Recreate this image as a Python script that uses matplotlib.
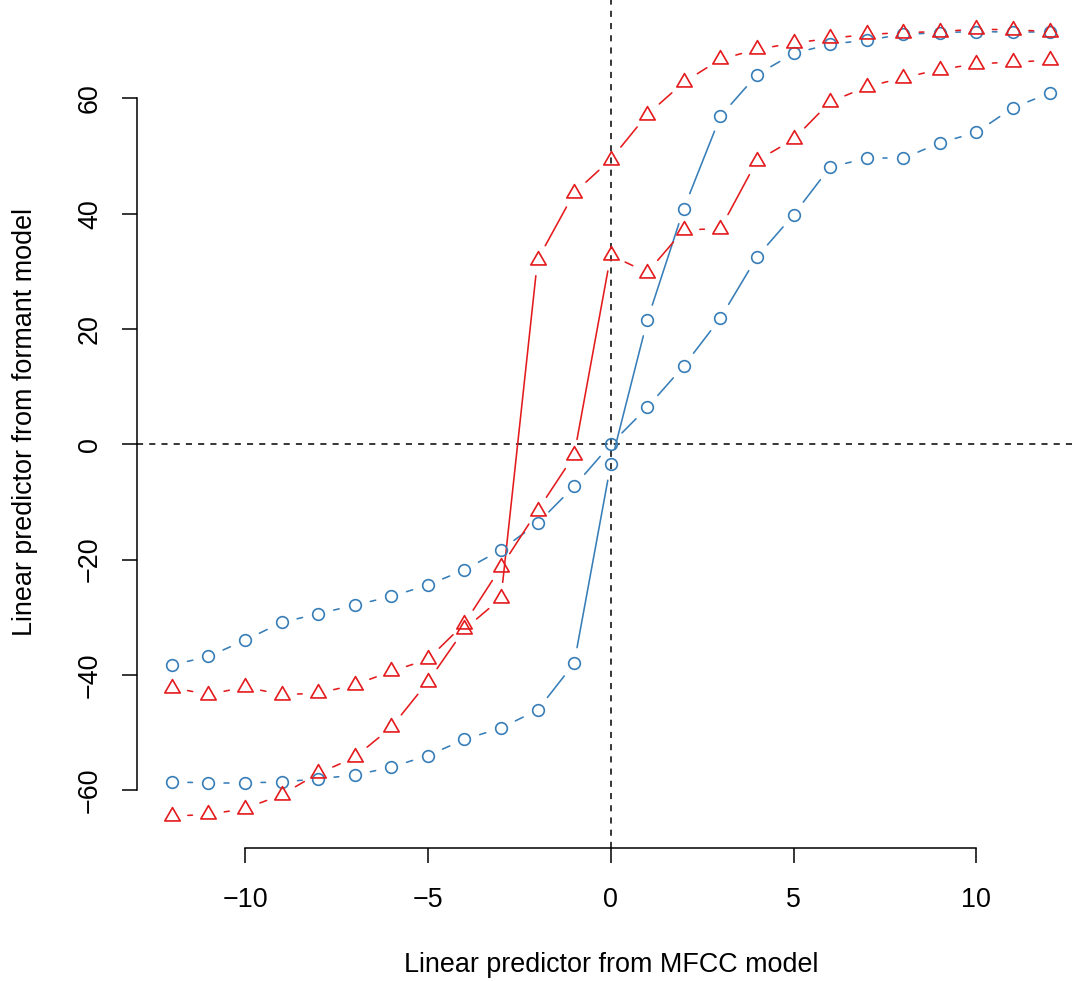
import numpy as np
import matplotlib
matplotlib.use("Agg")
import matplotlib.pyplot as plt
import matplotlib.path as mpath

# ---------------- data ----------------
x_vals = list(range(-12, 13))

blue_shallow = [-38.3, -36.8, -34.0, -30.9, -29.4, -27.9, -26.4, -24.4, -21.8, -18.3,
                -13.7, -7.3, 0.0, 6.4, 13.6, 21.9, 32.5, 39.8, 48.1, 49.6,
                49.6, 52.3, 54.1, 58.4, 60.9]
blue_steep = [-58.6, -58.7, -58.7, -58.6, -58.0, -57.4, -56.0, -54.0, -51.2, -49.2,
              -46.1, -38.0, -3.5, 21.5, 40.9, 56.9, 64.1, 67.8, 69.4, 70.1,
              71.1, 71.4, 71.6, 71.5, 71.5]
red_steep = [-64.5, -64.2, -63.2, -60.8, -57.1, -54.3, -49.1, -41.2, -32.1, -26.7,
             32.0, 43.6, 49.4, 57.2, 62.8, 66.8, 68.5, 69.6, 70.4, 71.1,
             71.4, 71.6, 72.0, 71.9, 71.6]
red_shallow = [-42.2, -43.4, -42.1, -43.4, -43.2, -41.7, -39.4, -37.3, -31.1, -21.3,
               -11.5, -1.9, 32.8, 29.8, 37.2, 37.4, 49.2, 52.9, 59.4, 62.0,
               63.6, 65.0, 66.0, 66.3, 66.6]

x_ticks = [-10, -5, 0, 5, 10]
y_ticks = [-60, -40, -20, 0, 20, 40, 60]
x_label = "Linear predictor from MFCC model"
y_label = "Linear predictor from formant model"

BLUE = "#377EB8"
RED = "#E41A1C"

# ---------------- figure ----------------
W, H, DPI = 1078, 981, 100
FS = 19.4
plt.rcParams["font.family"] = ["Liberation Sans", "DejaVu Sans"]
fig = plt.figure(figsize=(W / DPI, H / DPI), dpi=DPI)

xlim = (-12.96, 12.96)
ylim = (-69.96, 77.46)
x0_px, xscale = 610.7, 36.57       # pixel of x=0, px per unit
y0_px, yscale = 444.3, 5.765       # pixel (from top) of y=0, px per unit
left_px = x0_px + xlim[0] * xscale
right_px = x0_px + xlim[1] * xscale
bottom_px = y0_px - ylim[0] * yscale
top_px = y0_px - ylim[1] * yscale
ax = fig.add_axes([left_px / W, (H - bottom_px) / H,
                   (right_px - left_px) / W, (bottom_px - top_px) / H])
ax.set_xlim(*xlim)
ax.set_ylim(*ylim)
ax.patch.set_alpha(0)

# reference lines
ax.axhline(0, color="black", lw=1.1, dashes=(4, 4), zorder=1)
ax.axvline(0, color="black", lw=1.1, dashes=(4, 4), zorder=1)

LW = 1.15
GAP = 16.0  # pixels of gap around each point (R type="b")

tri = mpath.Path([(0, 1), (-0.8660254, -0.5), (0.8660254, -0.5), (0, 1)], closed=True)


def broken_series(xs, ys, color, marker, ms):
    xs = np.asarray(xs, float)
    ys = np.asarray(ys, float)
    pts = ax.transData.transform(np.column_stack([xs, ys]))
    inv = ax.transData.inverted()
    for p0, p1 in zip(pts[:-1], pts[1:]):
        d = p1 - p0
        L = np.hypot(d[0], d[1])
        if L > 2 * GAP:
            u = d / L * GAP
            seg = inv.transform(np.array([p0 + u, p1 - u]))
            ax.plot(seg[:, 0], seg[:, 1], color=color, lw=LW,
                    solid_capstyle="round", zorder=2)
    ax.plot(xs, ys, ls="none", marker=marker, ms=ms, mfc="none", mec=color,
            mew=1.2, zorder=3)


broken_series(x_vals, blue_shallow, BLUE, "o", 8.4)
broken_series(x_vals, blue_steep, BLUE, "o", 8.4)
broken_series(x_vals, red_shallow, RED, tri, 12.8)
broken_series(x_vals, red_steep, RED, tri, 12.8)

# axes styling (R-like)
for s in ["top", "right"]:
    ax.spines[s].set_visible(False)
ax.spines["left"].set_bounds(y_ticks[0], y_ticks[-1])
ax.spines["bottom"].set_bounds(x_ticks[0], x_ticks[-1])
ax.spines["left"].set_linewidth(1.1)
ax.spines["bottom"].set_linewidth(1.1)
ax.set_xticks(x_ticks)
ax.set_yticks(y_ticks)
ax.set_xticklabels([f"{v}".replace("-", "\u2212") for v in x_ticks])
ax.set_yticklabels([f"{v}".replace("-", "\u2212") for v in y_ticks],
                   rotation=90, va="center")
ax.tick_params(axis="both", direction="out", length=10.8, width=1.1,
               labelsize=FS, colors="black")
ax.tick_params(axis="x", pad=17.5)
ax.tick_params(axis="y", pad=13.5)

fig.text(611 / W, 1 - 971.5 / H, x_label, ha="center", va="baseline", fontsize=FS)
fig.text(32.5 / W, 1 - 422 / H, y_label, ha="center", va="baseline", fontsize=FS,
         rotation=90, rotation_mode="anchor")

fig.savefig("out.png", dpi=DPI)
